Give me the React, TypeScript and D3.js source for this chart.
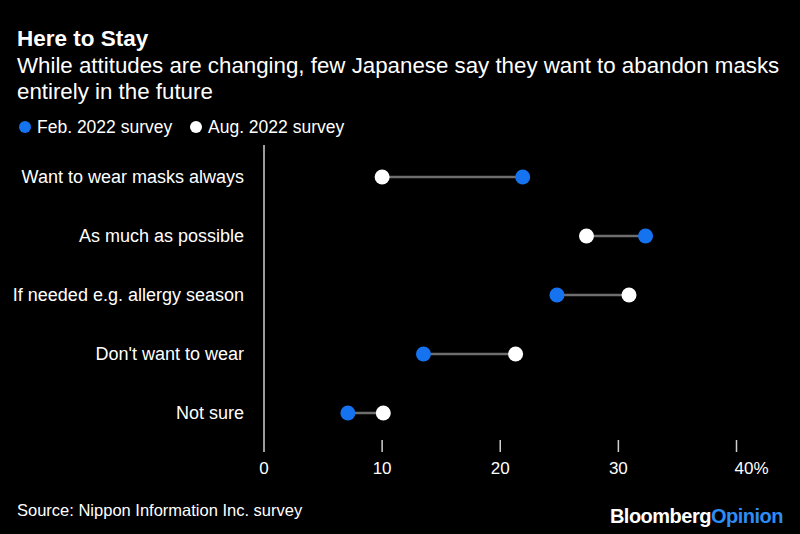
import * as d3 from "d3";
import React, { useEffect, useRef } from "react";

const categories = [
  "Want to wear masks always",
  "As much as possible",
  "If needed e.g. allergy season",
  "Don't want to wear",
  "Not sure",
];
const feb2022 = [21.9, 32.3, 24.8, 13.5, 7.1];
const aug2022 = [10.0, 27.3, 30.9, 21.3, 10.1];
const xTicks = [0, 10, 20, 30, 40];

const BLUE = "#1673f0";
const FONT = "'Liberation Sans', Arial, sans-serif";

const App: React.FC = () => {
  const ref = useRef<SVGSVGElement>(null);

  useEffect(() => {
    const width = 800;
    const height = 534;

    const svg = d3.select(ref.current);
    svg.selectAll("*").remove();
    svg.attr("width", width).attr("height", height).style("font-family", FONT);

    svg.append("rect").attr("width", width).attr("height", height).attr("fill", "#000");

    // Title block
    svg.append("text")
      .attr("x", 17).attr("y", 46)
      .attr("fill", "#fff")
      .style("font-size", "22.5px").style("font-weight", "bold")
      .text("Here to Stay");
    ["While attitudes are changing, few Japanese say they want to abandon masks", "entirely in the future"]
      .forEach((line, i) => {
        svg.append("text")
          .attr("x", 17).attr("y", 73 + i * 26)
          .attr("fill", "#fff")
          .style("font-size", "22.3px")
          .text(line);
      });

    // Legend
    const legend = [
      { label: "Feb. 2022 survey", color: BLUE, x: 25 },
      { label: "Aug. 2022 survey", color: "#fff", x: 196 },
    ];
    legend.forEach((l) => {
      svg.append("circle").attr("cx", l.x).attr("cy", 127).attr("r", 6).attr("fill", l.color);
      svg.append("text")
        .attr("x", l.x + 12).attr("y", 133)
        .attr("fill", "#fff")
        .style("font-size", "17.5px")
        .text(l.label);
    });

    const x = d3.scaleLinear().domain([0, 40]).range([264, 736.5]);
    const y = d3.scalePoint<string>().domain(categories).range([177, 413]);

    // Zero line
    svg.append("line")
      .attr("x1", x(0)).attr("x2", x(0))
      .attr("y1", 145).attr("y2", 452)
      .attr("stroke", "#d0d0d0").attr("stroke-width", 1.5);

    // Ticks and labels
    xTicks.forEach((t) => {
      if (t !== 0) {
        svg.append("line")
          .attr("x1", x(t)).attr("x2", x(t))
          .attr("y1", 440).attr("y2", 452)
          .attr("stroke", "#d0d0d0").attr("stroke-width", 1.5);
      }
      svg.append("text")
        .attr("x", t === 40 ? x(t) + 15 : x(t)).attr("y", 474)
        .attr("text-anchor", "middle")
        .attr("fill", "#fff")
        .style("font-size", "17px")
        .text(t === 40 ? "40%" : String(t));
    });

    // Category labels
    categories.forEach((c) => {
      svg.append("text")
        .attr("x", 244).attr("y", y(c)! + 6)
        .attr("text-anchor", "end")
        .attr("fill", "#fff")
        .style("font-size", "18px")
        .text(c);
    });

    // Dumbbells
    const rows = categories.map((c, i) => ({ c, feb: feb2022[i], aug: aug2022[i] }));
    const g = svg.append("g");
    g.selectAll("line.link").data(rows).enter().append("line")
      .attr("class", "link")
      .attr("x1", (d) => x(d.feb)).attr("x2", (d) => x(d.aug))
      .attr("y1", (d) => y(d.c)!).attr("y2", (d) => y(d.c)!)
      .attr("stroke", "#6e6e6e").attr("stroke-width", 2.5);
    g.selectAll("circle.aug").data(rows).enter().append("circle")
      .attr("class", "aug")
      .attr("cx", (d) => x(d.aug)).attr("cy", (d) => y(d.c)!)
      .attr("r", 7.5).attr("fill", "#fff");
    g.selectAll("circle.feb").data(rows).enter().append("circle")
      .attr("class", "feb")
      .attr("cx", (d) => x(d.feb)).attr("cy", (d) => y(d.c)!)
      .attr("r", 7.5).attr("fill", BLUE);

    // Footer
    svg.append("text")
      .attr("x", 17).attr("y", 516)
      .attr("fill", "#fff")
      .style("font-size", "16.5px")
      .text("Source: Nippon Information Inc. survey");
    const logo = svg.append("text")
      .attr("x", 783).attr("y", 523)
      .attr("text-anchor", "end")
      .style("font-size", "20px").style("font-weight", "bold")
      .style("letter-spacing", "-0.5px");
    logo.append("tspan").attr("fill", "#fff").text("Bloomberg");
    logo.append("tspan").attr("fill", "#2e8cf5").text("Opinion");
  }, []);

  return <svg ref={ref} style={{ position: "absolute", left: 0, top: 0 }}></svg>;
};

export default App;
